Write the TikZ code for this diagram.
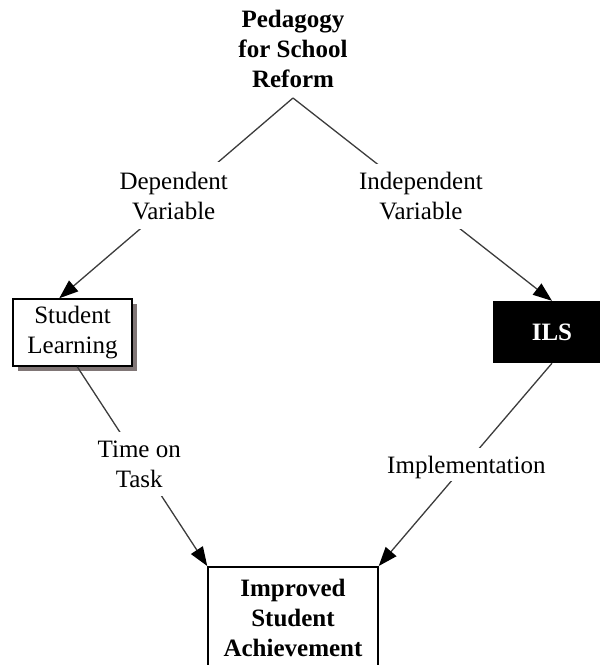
\documentclass[tikz,border=0pt]{standalone}
\usepackage{fontspec}
\setmainfont{Liberation Serif}
\usetikzlibrary{arrows.meta,shadows}
\definecolor{shadowgray}{RGB}{128,118,118}
\definecolor{linkgray}{RGB}{60,60,60}
\begin{document}
\begin{tikzpicture}[x=1pt,y=-1pt,
  txt/.style={font=\fontsize{25}{30}\selectfont, align=center},
  boldtxt/.style={font=\fontsize{25}{30}\selectfont\bfseries, align=center},
  link/.style={draw=linkgray, line width=1.3pt},
  arrowlink/.style={link, -{Triangle[length=19pt,width=14pt,color=black]}},
  edgelabel/.style={txt, fill=white, inner xsep=2pt, inner ysep=#1},
  framebox/.style={draw=black, line width=1.5pt, fill=white}]
\clip (0,0) rectangle (600,665);
\useasboundingbox (0,0) rectangle (600,665);

% top concept
\node[boldtxt, anchor=north, inner sep=0pt] (title) at (293,10)
  {Pedagogy\\for School\\Reform};
\coordinate (apex) at ([yshift=-10pt]title.south);

% the two variables
\node[txt, framebox, minimum width=119pt, minimum height=67pt, inner sep=0pt,
      drop shadow={shadow xshift=5pt, shadow yshift=-5pt, fill=shadowgray, opacity=1}]
  (sl) at (72.5,332.5) {Student\\Learning};
\node[boldtxt, fill=black, text=white, minimum width=118pt, minimum height=62pt]
  (ils) at (552,332) {ILS};

% outcome
\node[boldtxt, framebox, anchor=north, minimum width=170pt, inner ysep=12pt]
  (ach) at (293,566) {Improved\\Student\\Achievement\strut};

% connectors with their labels
\draw[arrowlink] (apex) --
  node[edgelabel=9.5pt, pos=0.4875, xshift=-5.4pt] {Dependent\\Variable}
  ([xshift=47pt]sl.north west);
\draw[arrowlink] (apex) --
  node[edgelabel=8.5pt, pos=0.485, xshift=2.3pt] {Independent\\Variable}
  (ils.north);
\draw[arrowlink] ([xshift=65pt]sl.south west) --
  node[edgelabel=8.5pt, pos=0.49, xshift=-1.7pt] {Time on\\Task}
  (ach.north west);
\draw[arrowlink] (ils.south) --
  node[edgelabel=8pt, text depth=0pt, pos=0.5, xshift=1pt] {Implementation}
  (ach.north east);
\end{tikzpicture}
\end{document}
